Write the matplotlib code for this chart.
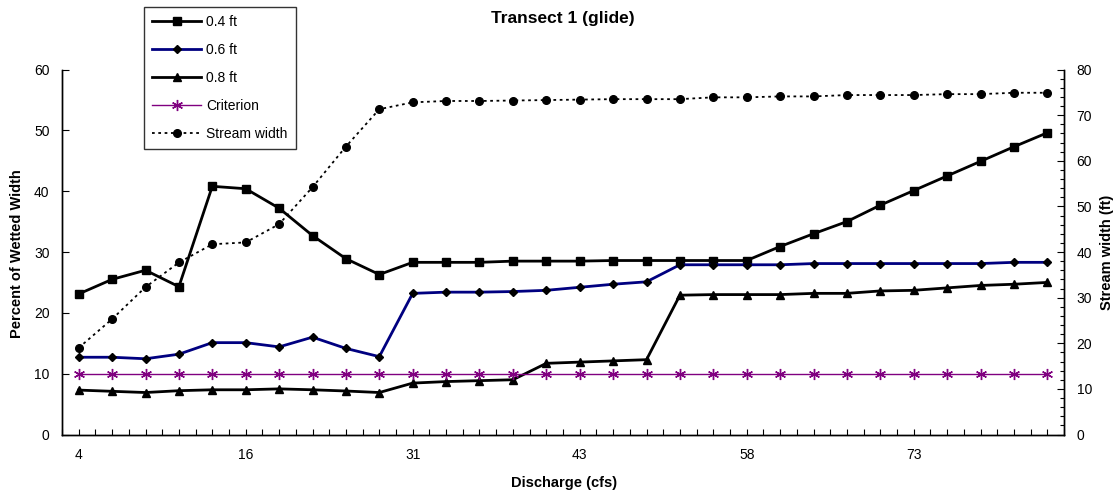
import matplotlib
matplotlib.use('Agg')
import matplotlib.pyplot as plt
from matplotlib.ticker import MultipleLocator
import numpy as np

plt.rcParams['font.family'] = ['Liberation Sans', 'DejaVu Sans']

# Data (30 discharge categories)
tick_labels = ['4', '16', '31', '43', '58', '73']
label_every = 5

depth_04 = [23.1, 25.5, 27.0, 24.3, 40.8, 40.4, 37.2, 32.7, 28.9, 26.3,
            28.3, 28.3, 28.3, 28.5, 28.5, 28.5, 28.6, 28.6, 28.6, 28.6,
            28.6, 30.9, 33.0, 35.0, 37.7, 40.1, 42.5, 44.9, 47.3, 49.6]
depth_06 = [12.7, 12.7, 12.45, 13.2, 15.1, 15.1, 14.4, 16.0, 14.15, 12.8,
            23.2, 23.4, 23.4, 23.5, 23.7, 24.2, 24.7, 25.1, 27.9, 27.9,
            27.9, 27.9, 28.1, 28.1, 28.1, 28.1, 28.1, 28.1, 28.3, 28.3]
depth_08 = [7.3, 7.1, 6.9, 7.2, 7.35, 7.35, 7.5, 7.35, 7.15, 6.9,
            8.45, 8.7, 8.85, 9.0, 11.7, 11.9, 12.1, 12.3, 22.9, 23.0,
            23.0, 23.0, 23.2, 23.2, 23.6, 23.7, 24.1, 24.5, 24.7, 25.0]
criterion = [10.0] * 30
stream_width = [19.0, 25.3, 32.3, 37.7, 41.7, 42.1, 46.1, 54.2, 63.1, 71.3,
                72.8, 73.1, 73.1, 73.2, 73.3, 73.4, 73.5, 73.5, 73.5, 73.9,
                73.9, 74.1, 74.1, 74.4, 74.4, 74.4, 74.6, 74.6, 74.9, 74.9]

x = np.arange(len(depth_04))

fig = plt.figure(figsize=(11.2, 4.97), dpi=100)
ax = fig.add_axes([62 / 1120, 1 - 434.5 / 497, 1002 / 1120, 365 / 497])
ax2 = ax.twinx()

l1, = ax.plot(x, depth_04, color='black', lw=2, marker='s', ms=5.5, label='0.4 ft')
l2, = ax.plot(x, depth_06, color='#000080', lw=2, marker='D', ms=4.5,
              mfc='black', mec='black', label='0.6 ft')
l3, = ax.plot(x, depth_08, color='black', lw=2, marker='^', ms=6, label='0.8 ft')
l4, = ax.plot(x, criterion, color='#800080', lw=1, marker=(6, 2, 0), ms=8,
              mew=1, label='Criterion')
l5, = ax2.plot(x, stream_width, color='black', lw=1.3, ls=(0, (1.5, 2)),
               marker='o', ms=5.5, label='Stream width')

ax.set_xlim(-0.5, len(x) - 0.5)
ax.set_ylim(0, 60)
ax2.set_ylim(0, 80)

ax.set_xticks(np.arange(0, len(x), label_every))
ax.set_xticklabels(tick_labels)
ax.xaxis.set_minor_locator(MultipleLocator(0.5))
ax.yaxis.set_major_locator(MultipleLocator(10))
ax2.yaxis.set_major_locator(MultipleLocator(10))
ax2.yaxis.set_minor_locator(MultipleLocator(2))

for a in (ax, ax2):
    a.spines['top'].set_visible(False)
    for s in a.spines.values():
        s.set_linewidth(1)
        s.set_color('black')
    a.set_facecolor('none')

ax.tick_params(axis='x', which='both', direction='in', length=4, width=0.8,
               pad=10, labelsize=10)
ax.tick_params(axis='y', which='major', direction='in', length=5, width=0.8,
               pad=9, labelsize=10)
ax2.tick_params(axis='y', which='major', direction='in', length=5, width=0.8,
                pad=9, labelsize=10)
ax2.tick_params(axis='y', which='minor', direction='in', length=3, width=0.8)

fig.text(563 / 1120, 1 - 19 / 497, 'Transect 1 (glide)', ha='center', va='center',
         fontsize=12.5, fontweight='bold')
fig.text(17.5 / 1120, 1 - 254 / 497, 'Percent of Wetted Width', rotation=90,
         ha='center', va='center', fontsize=10.5, fontweight='bold')
fig.text(1107 / 1120, 1 - 252 / 497, 'Stream width (ft)', rotation=90,
         ha='center', va='center', fontsize=10.5, fontweight='bold')
fig.text(564 / 1120, 1 - 483 / 497, 'Discharge (cfs)', ha='center', va='center',
         fontsize=10.5, fontweight='bold')

leg = fig.legend(handles=[l1, l2, l3, l4, l5], loc='upper left',
                 bbox_to_anchor=(144 / 1120, 1 - 7 / 497), fontsize=10,
                 frameon=True, fancybox=False, edgecolor='black',
                 handlelength=3.5, handletextpad=0.4, labelspacing=1.0,
                 borderpad=0.6, borderaxespad=0)
leg.get_frame().set_linewidth(1)

fig.savefig('out.png', dpi=100)
